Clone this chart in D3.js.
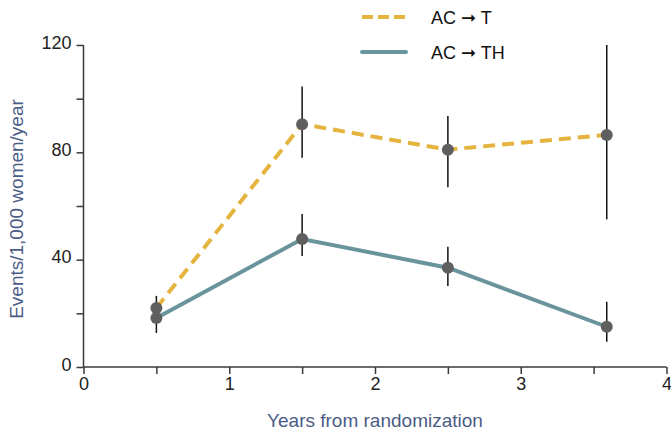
<!DOCTYPE html>
<html>
<head>
<meta charset="utf-8">
<script src="https://cdn.jsdelivr.net/npm/d3@7"></script>
<style>
  body { margin: 0; background: #fff; }
  text { font-family: "Liberation Sans", Arial, sans-serif; }
</style>
</head>
<body>
<div id="chart"></div>
<script>
// years from randomization (x position of each estimate)
const years = [0.5, 1.5, 2.5, 3.59];

// AC -> T
const tRate = [22, 90.5, 81, 86.5];
const tLow = [17, 78, 67, 55];
const tHigh = [26.5, 104.5, 93.5, 120];

// AC -> TH
const thRate = [18.3, 47.7, 37, 15];
const thLow = [12.7, 41.4, 30.2, 9.4];
const thHigh = [23, 57, 44.8, 24.3];

const xTicks = [0, 0.5, 1, 1.5, 2, 2.5, 3, 3.5, 4];
const yTicks = [0, 20, 40, 60, 80, 100, 120];
const yLabelled = [0, 40, 80, 120];

const seriesFrom = ['AC', 'AC'];
const seriesTo = ['T', 'TH'];
const yellow = '#e4b43e';
const teal = '#6a949c';
const dotColor = '#5f5f5f';
const titleColor = '#4b5c86';

const width = 671, height = 432;
const svg = d3.select('#chart').append('svg')
  .attr('width', width)
  .attr('height', height);

const x = d3.scaleLinear().domain([0, 4]).range([83.5, 666.5]);
const y = d3.scaleLinear().domain([0, 120]).range([367, 45]);

// axes
const xAxis = svg.append('g')
  .attr('transform', `translate(0,${y(0)})`)
  .call(d3.axisBottom(x).tickValues(xTicks).tickSize(7).tickPadding(3)
    .tickFormat(d => Number.isInteger(d) ? d : ''));
const yAxis = svg.append('g')
  .attr('transform', `translate(${x(0)},0)`)
  .call(d3.axisLeft(y).tickValues(yTicks).tickSize(7).tickPadding(5)
    .tickFormat(d => yLabelled.includes(d) ? d : ''));

[xAxis, yAxis].forEach(g => {
  g.select('.domain').attr('stroke', '#3a3a3a').attr('stroke-width', 1.5);
  g.selectAll('.tick line').attr('stroke', '#3a3a3a').attr('stroke-width', 1.5);
  g.selectAll('.tick text')
    .attr('fill', '#222')
    .style('font-size', '18px')
    .style('font-family', '"Liberation Sans", Arial, sans-serif');
});
xAxis.select('.domain').attr('d', `M${x(0)},0H${x(4)}`);
yAxis.select('.domain').attr('d', `M0,${y(0)}V${y(120)}`);
yAxis.selectAll('.tick text').attr('dy', '0.18em');

// axis titles
svg.append('text')
  .attr('x', 375)
  .attr('y', 427)
  .attr('text-anchor', 'middle')
  .attr('fill', titleColor)
  .style('font-size', '19px')
  .text('Years from randomization');

svg.append('text')
  .attr('transform', 'translate(23,209) rotate(-90)')
  .attr('text-anchor', 'middle')
  .attr('fill', titleColor)
  .style('font-size', '19px')
  .text('Events/1,000 women/year');

const line = d3.line().x(d => x(d[0])).y(d => y(d[1]));
const tData = years.map((d, i) => [d, tRate[i], tLow[i], tHigh[i]]);
const thData = years.map((d, i) => [d, thRate[i], thLow[i], thHigh[i]]);

// error bars
const bars = svg.append('g');
[tData, thData].forEach(data => {
  bars.selectAll(null)
    .data(data)
    .enter()
    .append('line')
    .attr('x1', d => x(d[0])).attr('x2', d => x(d[0]))
    .attr('y1', d => y(d[2])).attr('y2', d => y(d[3]))
    .attr('stroke', '#111')
    .attr('stroke-width', 1.5);
});

// lines
svg.append('path')
  .datum(tData)
  .attr('d', line)
  .attr('fill', 'none')
  .attr('stroke', yellow)
  .attr('stroke-width', 4)
  .attr('stroke-dasharray', '12,7');

svg.append('path')
  .datum(thData)
  .attr('d', line)
  .attr('fill', 'none')
  .attr('stroke', teal)
  .attr('stroke-width', 4);

// dots
[tData, thData].forEach(data => {
  svg.append('g').selectAll('circle')
    .data(data)
    .enter()
    .append('circle')
    .attr('cx', d => x(d[0]))
    .attr('cy', d => y(d[1]))
    .attr('r', 6)
    .attr('fill', dotColor);
});

// legend
const legend = svg.append('g');
const legendRows = [
  { i: 0, color: yellow, dash: '11,5', y: 17 },
  { i: 1, color: teal, dash: null, y: 52 }
];
legendRows.forEach(r => {
  legend.append('line')
    .attr('x1', 362).attr('x2', 406)
    .attr('y1', r.y).attr('y2', r.y)
    .attr('stroke', r.color)
    .attr('stroke-width', 4)
    .attr('stroke-linecap', r.dash ? 'butt' : 'round')
    .attr('stroke-dasharray', r.dash);
  const t = legend.append('text')
    .attr('x', 431)
    .attr('y', r.y + 7)
    .attr('fill', '#111')
    .style('font-size', '18px');
  t.append('tspan').text(seriesFrom[r.i] + ' ');
  t.append('tspan')
    .style('font-family', '"DejaVu Sans", sans-serif')
    .style('font-size', '18px')
    .text('\u279E');
  t.append('tspan').text(' ' + seriesTo[r.i]);
});
</script>
</body>
</html>
